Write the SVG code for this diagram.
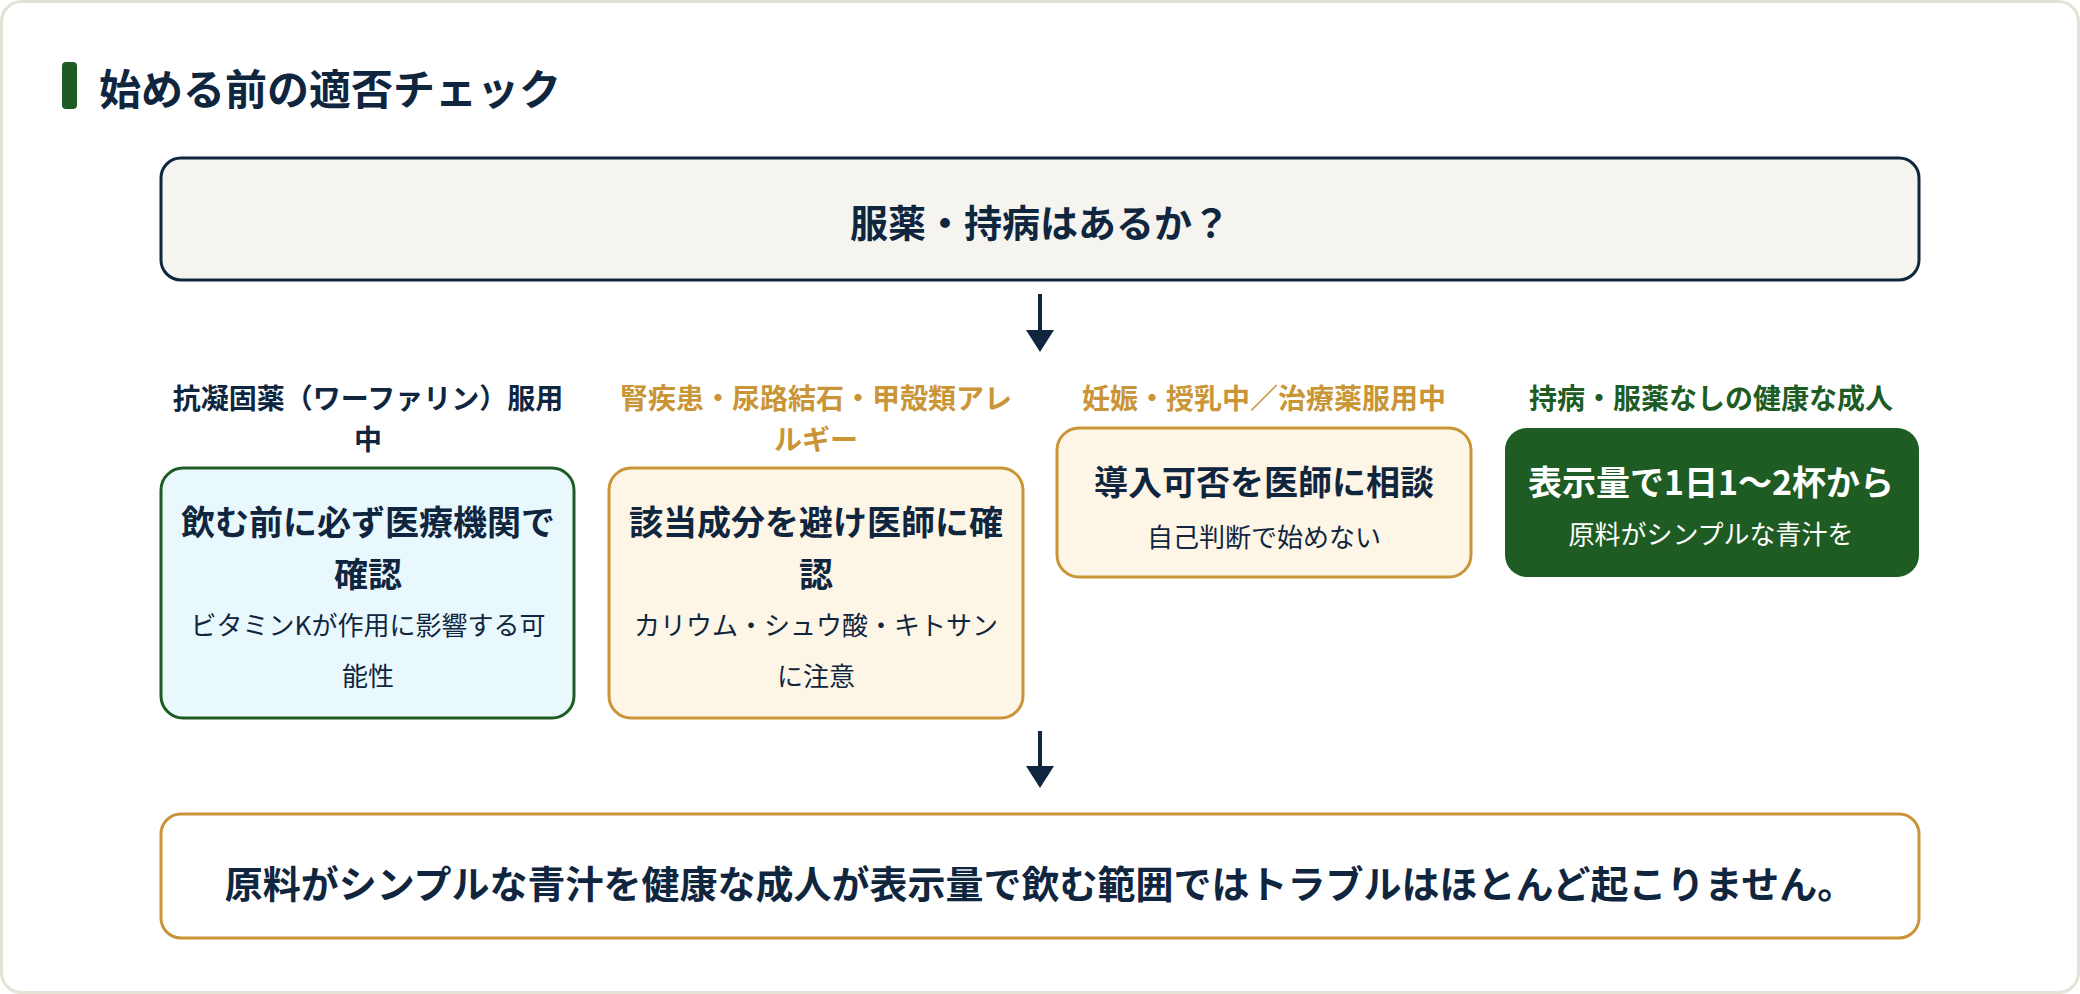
<svg xmlns="http://www.w3.org/2000/svg" width="2080" height="994" viewBox="0 0 2080 994">
<defs>
<style>
text{font-family:"Noto Sans CJK JP","Noto Sans",sans-serif;text-anchor:middle;dominant-baseline:central}
.b{font-weight:700}
.navy{fill:#10263f}
.gold{fill:#c99537}
.green{fill:#1e5c23}
.white{fill:#ffffff}
.lbl{font-size:28px;font-weight:700}
.t1{font-size:34px;font-weight:700}
.t2{font-size:26px;font-weight:400}
.conn{stroke:#10263f;stroke-width:4;fill:none}
.head{fill:#10263f}
</style>
</defs>
<rect x="1.5" y="1.5" width="2077" height="991" rx="20" fill="#ffffff" stroke="#e4e2d6" stroke-width="3"/>
<g id="title">
<rect x="62" y="62" width="15" height="47" rx="4" fill="#1e5c23"/>
<text x="99" y="86" class="b navy" style="font-size:42px;text-anchor:start">始める前の適否チェック</text>
</g>
<g id="q">
<rect x="161" y="158" width="1758" height="122" rx="20" fill="#f5f4ef" stroke="#10263f" stroke-width="3"/>
<text x="1040" y="220" class="b navy" style="font-size:38px">服薬・持病はあるか？</text>
</g>
<g id="connectors">
<line x1="1040" y1="294" x2="1040" y2="332" class="conn"/>
<polygon points="1026,330 1054,330 1040,352" class="head"/>
<line x1="1040" y1="731" x2="1040" y2="768" class="conn"/>
<polygon points="1026,766 1054,766 1040,788" class="head"/>
</g>
<g id="c1">
<text x="368" y="397" class="lbl navy">抗凝固薬（ワーファリン）服用</text>
<text x="368" y="438" class="lbl navy">中</text>
<rect x="161" y="468" width="413" height="250" rx="22" fill="#e9f8fd" stroke="#1e5c23" stroke-width="3"/>
<text x="368" y="520" class="t1 navy">飲む前に必ず医療機関で</text>
<text x="368" y="572" class="t1 navy">確認</text>
<text x="368" y="623" class="t2 navy">ビタミンKが作用に影響する可</text>
<text x="368" y="674" class="t2 navy">能性</text>
</g>
<g id="c2">
<text x="816" y="397" class="lbl gold">腎疾患・尿路結石・甲殻類アレ</text>
<text x="816" y="438" class="lbl gold">ルギー</text>
<rect x="609" y="468" width="414" height="250" rx="22" fill="#fdf5e5" stroke="#c99537" stroke-width="3"/>
<text x="816" y="520" class="t1 navy">該当成分を避け医師に確</text>
<text x="816" y="572" class="t1 navy">認</text>
<text x="816" y="623" class="t2 navy">カリウム・シュウ酸・キトサン</text>
<text x="816" y="674" class="t2 navy">に注意</text>
</g>
<g id="c3">
<text x="1264" y="397" class="lbl gold">妊娠・授乳中／治療薬服用中</text>
<rect x="1057" y="428" width="414" height="149" rx="22" fill="#fdf5e5" stroke="#c99537" stroke-width="3"/>
<text x="1264" y="480" class="t1 navy">導入可否を医師に相談</text>
<text x="1264" y="535" class="t2 navy">自己判断で始めない</text>
</g>
<g id="c4">
<text x="1711" y="397" class="lbl green">持病・服薬なしの健康な成人</text>
<rect x="1505" y="428" width="414" height="149" rx="22" fill="#1e5c23"/>
<text x="1711" y="480" class="t1 white">表示量で1日1〜2杯から</text>
<text x="1711" y="532" class="t2 white">原料がシンプルな青汁を</text>
</g>
<g id="result">
<rect x="161" y="814" width="1758" height="124" rx="20" fill="#ffffff" stroke="#c99537" stroke-width="3"/>
<text x="1040" y="881" class="b navy" style="font-size:38px">原料がシンプルな青汁を健康な成人が表示量で飲む範囲ではトラブルはほとんど起こりません。</text>
</g>
</svg>
